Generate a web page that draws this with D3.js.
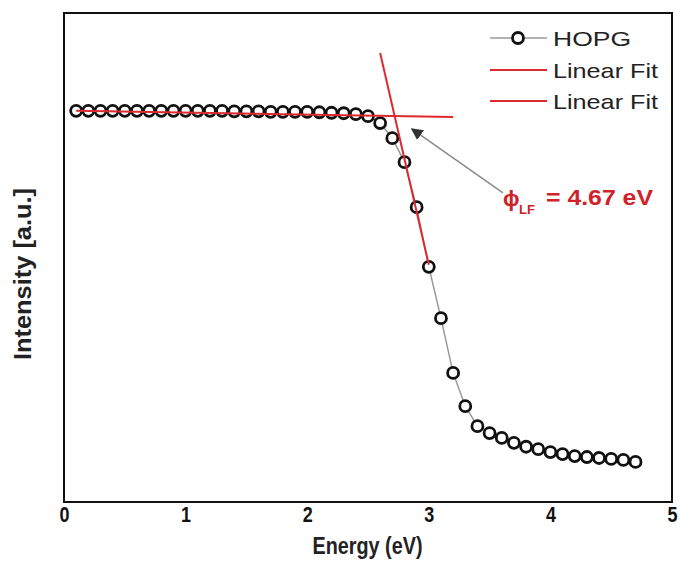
<!DOCTYPE html>
<html><head><meta charset="utf-8">
<script src="https://cdn.jsdelivr.net/npm/d3@7"></script>
<style>body{margin:0;background:#fff}svg{display:block}text{font-family:"Liberation Sans",Arial,sans-serif}</style>
</head><body>
<script>
// ---- data ----
const energy = [0.1,0.2,0.3,0.4,0.5,0.6,0.7,0.8,0.9,1.0,1.1,1.2,1.3,1.4,1.5,1.6,1.7,1.8,1.9,2.0,2.1,2.2,2.3,2.4,2.5,2.6,2.7,2.8,2.9,3.0,3.1,3.2,3.3,3.4,3.5,3.6,3.7,3.8,3.9,4.0,4.1,4.2,4.3,4.4,4.5,4.6,4.7];
const intensity = [80.0,80.0,80.0,80.0,80.0,80.0,80.0,80.0,80.0,80.0,80.0,80.0,80.0,79.9,79.9,79.9,79.8,79.8,79.8,79.8,79.7,79.6,79.5,79.3,78.9,77.5,74.4,69.5,60.3,48.1,37.6,26.4,19.6,15.5,14.1,13.1,12.1,11.3,10.8,10.2,9.8,9.4,9.2,9.0,8.8,8.6,8.2];
const fitSteepX = [2.6, 3.0];
const fitSteepY = [91.8, 48.5];
const fitFlatX = [0.1, 3.2];
const fitFlatY = [80.0, 78.75];
const xTicks = [0,1,2,3,4,5];
const legendLabels = ["HOPG","Linear Fit","Linear Fit"];
const arrowFrom = [3.61, 63.2];
const arrowTo = [2.86, 76.3];
const annotationSymbol = "ϕ";
const annotationSub = "LF";
const annotationValue = "= 4.67 eV";

// ---- layout ----
const W = 680, H = 569;
const L = 64, R = 672, T = 13, B = 502;
const red = "#dd2a2f";

const svg = d3.select("body").append("svg").attr("width", W).attr("height", H);
const x = d3.scaleLinear().domain([0,5]).range([L,R]);
const y = d3.scaleLinear().domain([0,100]).range([B,T]);

// x axis
const ax = svg.append("g").attr("transform",`translate(0,${B})`)
  .call(d3.axisBottom(x).tickValues(xTicks).tickFormat(d3.format("d")).tickSize(0).tickPadding(4));
ax.select(".domain").remove();
ax.selectAll("text").attr("font-size",22).attr("font-weight","bold").attr("fill","#111")
  .attr("font-family","'Liberation Sans',Arial,sans-serif")
  .attr("textLength",10).attr("lengthAdjust","spacingAndGlyphs");

// frame
svg.append("rect").attr("x",L).attr("y",T).attr("width",R-L).attr("height",B-T)
  .attr("fill","none").attr("stroke","#111").attr("stroke-width",2);

// axis titles
svg.append("text").attr("x",(L+R)/2 - 0.5).attr("y",554).attr("text-anchor","middle")
  .attr("font-size",23).attr("font-weight","bold").attr("fill","#222")
  .attr("textLength",110).attr("lengthAdjust","spacingAndGlyphs").text("Energy (eV)");
svg.append("text").attr("transform","translate(31,274) rotate(-90)").attr("text-anchor","middle")
  .attr("font-size",23).attr("font-weight","bold").attr("fill","#222")
  .attr("textLength",172).attr("lengthAdjust","spacingAndGlyphs").text("Intensity [a.u.]");

// data line
const pts = energy.map((e,i)=>[e,intensity[i]]);
svg.append("path").datum(pts)
  .attr("d", d3.line().x(d=>x(d[0])).y(d=>y(d[1])))
  .attr("fill","none").attr("stroke","#9a9a9a").attr("stroke-width",1.5);
svg.append("g").selectAll("circle").data(pts).join("circle")
  .attr("cx",d=>x(d[0])).attr("cy",d=>y(d[1])).attr("r",5.5)
  .attr("fill","#fff").attr("stroke","#111").attr("stroke-width",2.8);

// fit lines
const lineGen = d3.line().x(d=>x(d[0])).y(d=>y(d[1]));
svg.append("path").datum(fitFlatX.map((v,i)=>[v,fitFlatY[i]])).attr("d",lineGen)
  .attr("fill","none").attr("stroke",red).attr("stroke-width",2);
svg.append("path").datum(fitSteepX.map((v,i)=>[v,fitSteepY[i]])).attr("d",lineGen)
  .attr("fill","none").attr("stroke",red).attr("stroke-width",2);

// arrow
const defs = svg.append("defs");
defs.append("marker").attr("id","ah").attr("viewBox","0 0 10 10").attr("refX",9).attr("refY",5)
  .attr("markerWidth",12).attr("markerHeight",12).attr("markerUnits","userSpaceOnUse").attr("orient","auto")
  .append("path").attr("d","M0,0 L10,5 L0,10 Z").attr("fill","#333");
svg.append("line").attr("x1",x(arrowFrom[0])).attr("y1",y(arrowFrom[1]))
  .attr("x2",x(arrowTo[0])).attr("y2",y(arrowTo[1]))
  .attr("stroke","#8a8a8a").attr("stroke-width",1.5).attr("marker-end","url(#ah)");

// annotation
const ann = svg.append("g").attr("fill","#d0222a").attr("font-weight","bold");
ann.append("text").attr("x",503).attr("y",206).attr("font-size",22)
  .attr("font-family","'DejaVu Sans',sans-serif").attr("font-weight","bold").text(annotationSymbol);
ann.append("text").attr("x",519).attr("y",214).attr("font-size",13).text(annotationSub);
ann.append("text").attr("x",546).attr("y",205).attr("font-size",22)
  .attr("textLength",107).attr("lengthAdjust","spacingAndGlyphs").text(annotationValue);

// legend
const lg = svg.append("g");
const rows = [38,70,101];
lg.append("line").attr("x1",490).attr("x2",547).attr("y1",rows[0]).attr("y2",rows[0])
  .attr("stroke","#9a9a9a").attr("stroke-width",1.5);
lg.append("circle").attr("cx",518).attr("cy",rows[0]).attr("r",5.5)
  .attr("fill","#fff").attr("stroke","#111").attr("stroke-width",2.8);
[1,2].forEach(i=>{
  lg.append("line").attr("x1",490).attr("x2",547).attr("y1",rows[i]).attr("y2",rows[i])
    .attr("stroke",red).attr("stroke-width",2.2);
});
legendLabels.forEach((t,i)=>{
  lg.append("text").attr("x",553).attr("y",rows[i]+8).attr("font-size",21).attr("fill","#222")
    .attr("textLength", i===0 ? 78 : 105).attr("lengthAdjust","spacingAndGlyphs").text(t);
});
</script>
</body></html>
